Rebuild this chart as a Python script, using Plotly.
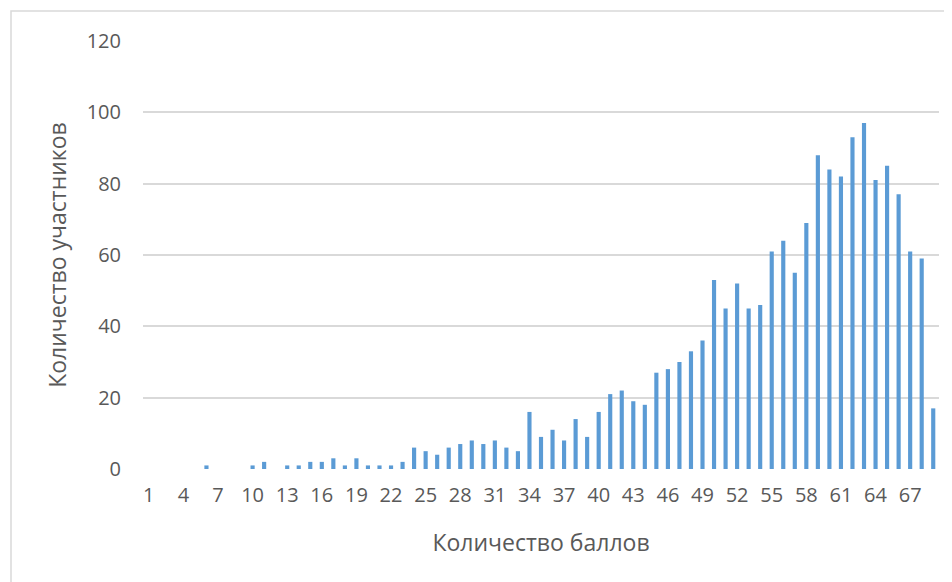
import plotly.graph_objects as go

scores = [str(i) for i in [
    1, 2, 3, 4, 5, 6, 7, 8, 9, 10, 11, 12, 13, 14, 15, 16, 17, 18, 19, 20,
    21, 22, 23, 24, 25, 26, 27, 28, 29, 30, 31, 32, 33, 34, 35, 36, 37, 38, 39, 40,
    41, 42, 43, 44, 45, 46, 47, 48, 49, 50, 51, 52, 53, 54, 55, 56, 57, 58, 59, 60,
    61, 62, 63, 64, 65, 66, 67, 68, 69]]
participants = [
    0, 0, 0, 0, 0, 1, 0, 0, 0, 1, 2, 0, 1, 1, 2, 2, 3, 1, 3, 1,
    1, 1, 2, 6, 5, 4, 6, 7, 8, 7, 8, 6, 5, 16, 9, 11, 8, 14, 9, 16,
    21, 22, 19, 18, 27, 28, 30, 33, 36, 53, 45, 52, 45, 46, 61, 64, 55, 69, 88, 84,
    82, 93, 97, 81, 85, 77, 61, 59, 17]
x_ticks = ["1", "4", "7", "10", "13", "16", "19", "22", "25", "28", "31", "34",
           "37", "40", "43", "46", "49", "52", "55", "58", "61", "64", "67"]
y_ticks = [0, 20, 40, 60, 80, 100, 120]

FONT = "Open Sans"
GREY = "#595959"
GRID = "#D9D9D9"

fig = go.Figure(go.Bar(
    x=scores, y=participants,
    marker=dict(color="#5B9BD5", line=dict(width=0)),
    width=0.36,
))

# page body has an 8px offset; figure sized to fit the window
W, H = 944, 574
L, R, T, B = 135, 13, 33, 113
pw, ph = W - L - R, H - T - B

fig.update_layout(
    width=W, height=H,
    margin=dict(l=L, r=R, t=T, b=B, pad=0),
    paper_bgcolor="white", plot_bgcolor="white",
    showlegend=False,
    font=dict(family=FONT, color=GREY, size=20),
    xaxis=dict(
        type="category",
        categoryorder="array", categoryarray=scores,
        tickmode="array", tickvals=x_ticks, ticktext=x_ticks,
        showgrid=False, zeroline=False, showline=False,
        ticks="", ticklabelstandoff=12,
        tickfont=dict(size=20, color=GREY, family=FONT),
        title=dict(text="Количество баллов", font=dict(size=23, color=GREY, family=FONT), standoff=27),
        range=[-0.5, 68.5],
    ),
    yaxis=dict(
        range=[0, 120], tickmode="array", tickvals=y_ticks,
        showgrid=True, gridcolor=GRID, gridwidth=1.5,
        zeroline=False, showline=False, ticks="",
        ticklabelstandoff=21,
        tickfont=dict(size=20, color=GREY, family=FONT),
        title=dict(text="Количество участников", font=dict(size=23, color=GREY, family=FONT), standoff=13),
    ),
    shapes=[dict(
        type="rect", xref="paper", yref="paper",
        x0=(3 - L) / pw, x1=(W + 20 - L) / pw,
        y0=-(B + 20) / ph, y1=1 + (T - 3) / ph,
        line=dict(color=GRID, width=1.5), fillcolor="rgba(0,0,0,0)", layer="below",
    )],
)

fig.write_html("out.html")
